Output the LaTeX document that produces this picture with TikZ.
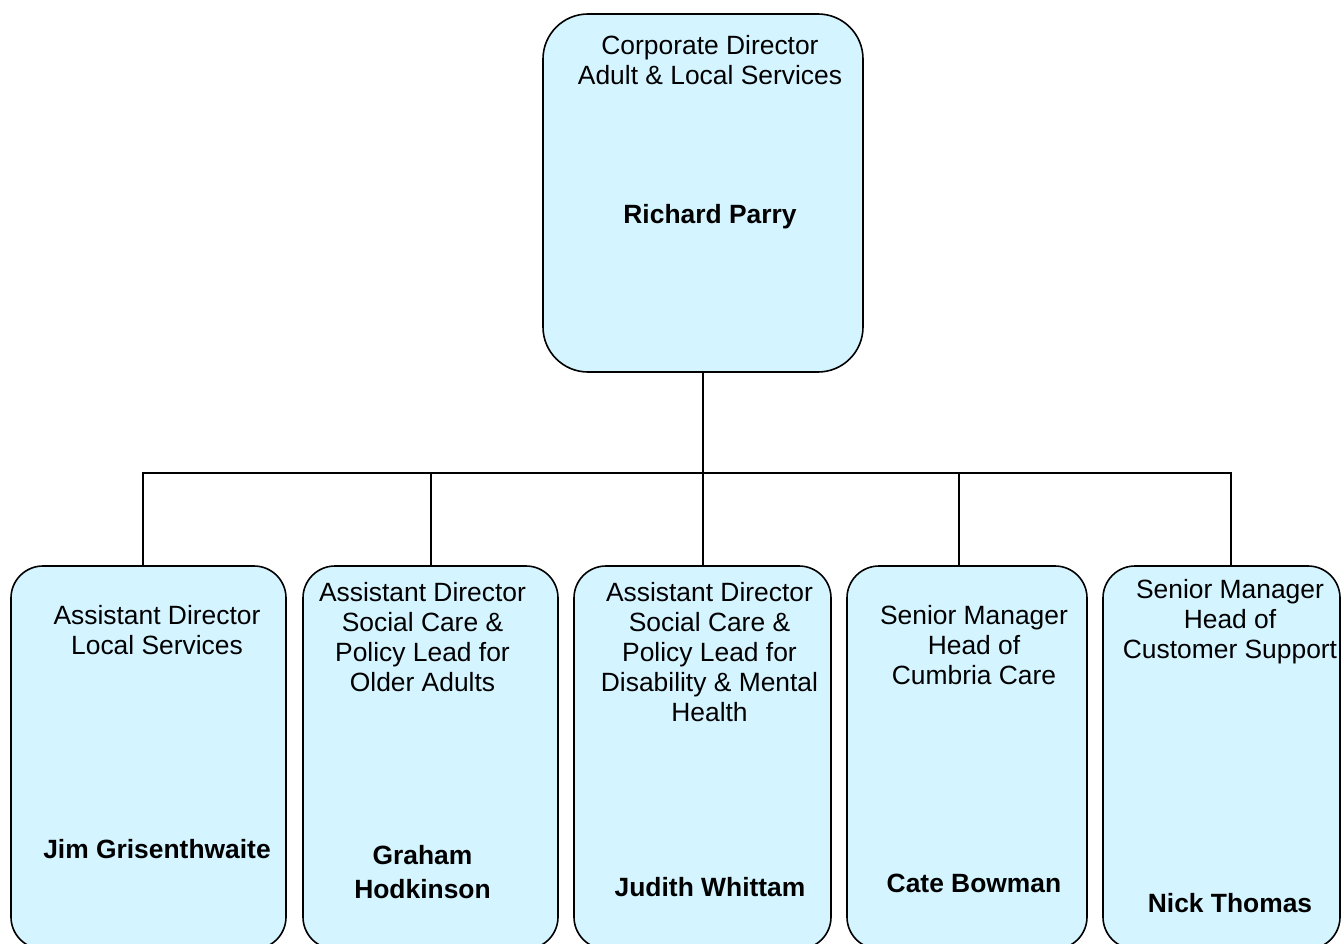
\documentclass[tikz,border=0pt]{standalone}
\usepackage{fontspec}
\setmainfont{Liberation Sans}
\definecolor{boxfill}{RGB}{212,244,255}
\begin{document}
\begin{tikzpicture}[x=1pt,y=-1pt,
  box/.style={draw=black,line width=1.6pt,fill=boxfill,rounded corners=32pt,inner sep=0pt,outer sep=0pt},
  topbox/.style={box,rounded corners=45pt},
  ttl/.style={font=\fontsize{26.4}{30}\selectfont,align=center,inner sep=0pt},
  nm/.style={font=\fontsize{26.4}{34}\selectfont\bfseries,align=center,inner sep=0pt},
  conn/.style={line width=1.5pt}]
\useasboundingbox (0,0) rectangle (1342,944);
\clip (0,0) rectangle (1342,944);
% boxes
\node[topbox,minimum width=320pt,minimum height=358pt] (top) at (703,193) {};
\node[box,minimum width=275pt,minimum height=383pt] (b1) at (148.5,757.5) {};
\node[box,minimum width=255pt,minimum height=383pt] (b2) at (430.5,757.5) {};
\node[box,minimum width=257pt,minimum height=383pt] (b3) at (702.5,757.5) {};
\node[box,minimum width=240pt,minimum height=383pt] (b4) at (967,757.5) {};
\node[box,minimum width=237pt,minimum height=383pt] (b5) at (1221.5,757.5) {};
% connectors
\coordinate (bar) at (703,473);
\draw[conn] (top.south) -- (bar);
\draw[conn] ([xshift=-5.5pt]b1.north) -- ([xshift=-5.5pt]b1.north |- bar) -- ([xshift=9.5pt]b5.north |- bar) -- ([xshift=9.5pt]b5.north);
\draw[conn] ([xshift=0.5pt]b2.north) -- ([xshift=0.5pt]b2.north |- bar);
\draw[conn] ([xshift=0.5pt]b3.north) -- ([xshift=0.5pt]b3.north |- bar);
\draw[conn] ([xshift=-8pt]b4.north) -- ([xshift=-8pt]b4.north |- bar);
% texts
\node[ttl] (t0) at (710,60) {Corporate Director\\Adult \& Local Services};
\node[nm] (n0) at (710,217) {Richard Parry};
\node[ttl] (t1) at (157,630) {Assistant Director\\Local Services};
\node[nm] (n1) at (157,849) {Jim Grisenthwaite};
\node[ttl] (t2) at (422.5,637) {Assistant Director\\Social Care \&\\Policy Lead for\\Older Adults};
\node[nm] (n2) at (422.5,872) {Graham\\Hodkinson};
\node[ttl] (t3) at (709.5,652) {Assistant Director\\Social Care \&\\Policy Lead for\\Disability \& Mental\\Health};
\node[nm] (n3) at (710,887) {Judith Whittam};
\node[ttl] (t4) at (974,645) {Senior Manager\\Head of\\Cumbria Care};
\node[nm] (n4) at (974,883) {Cate Bowman};
\node[ttl] (t5) at (1230,622) {Senior Manager\\Head of\\Customer Support};
\node[nm] (n5) at (1230,903) {Nick Thomas};
\end{tikzpicture}
\end{document}
